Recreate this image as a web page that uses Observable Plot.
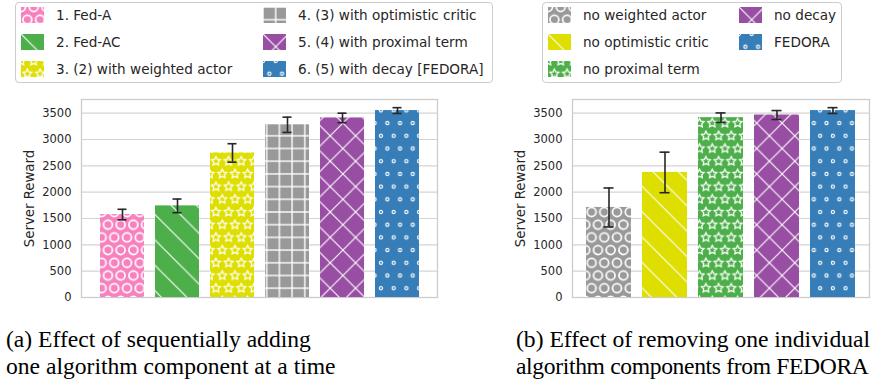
<!DOCTYPE html>
<html>
<head>
<meta charset="utf-8">
<script src="https://cdn.jsdelivr.net/npm/d3@7"></script>
<script src="https://cdn.jsdelivr.net/npm/@observablehq/plot@0.6"></script>
<style>
  body { margin: 0; background: #fff; }
  #root { position: relative; width: 878px; height: 379px; background: #fff; overflow: hidden; font-family: "DejaVu Sans", sans-serif; color: #262626; }
  .abs { position: absolute; }
  .legbox { position: absolute; border: 1px solid #cccccc; border-radius: 4px; box-sizing: border-box; background: #fff; }
  .item { position: absolute; display: flex; align-items: center; height: 18px; font-size: 13.6px; white-space: nowrap; }
  .item svg { display: block; }
  .cap { position: absolute; font-family: "Liberation Serif", "Times New Roman", serif; font-size: 23.6px; line-height: 27px; color: #000; white-space: nowrap; }
</style>
</head>
<body>
<div id="root"></div>
<script>
// ---------- data ----------
const namesA = ["1. Fed-A", "2. Fed-AC", "3. (2) with weighted actor", "4. (3) with optimistic critic", "5. (4) with proximal term", "6. (5) with decay [FEDORA]"];
const meansA = [1575, 1740, 2745, 3280, 3410, 3550];
const errsA  = [100, 130, 175, 145, 90, 55];
const colorsA = ["#f781bf", "#4daf4a", "#dede00", "#999999", "#984ea3", "#377eb8"];
const hatchesA = ["O", "\\", "*", "+", "x", "o"];

const namesB = ["no weighted actor", "no optimistic critic", "no proximal term", "no decay", "FEDORA"];
const meansB = [1710, 2375, 3415, 3465, 3550];
const errsB  = [370, 385, 90, 85, 55];
const colorsB = ["#999999", "#dede00", "#4daf4a", "#984ea3", "#377eb8"];
const hatchesB = ["O", "\\", "*", "x", "o"];

const yTicks = [0, 500, 1000, 1500, 2000, 2500, 3000, 3500];
const yLabel = "Server Reward";
const captionA = ["(a) Effect of sequentially adding", "one algorithm component at a time"];
const captionB = ["(b) Effect of removing one individual", "algorithm components from FEDORA"];

// ---------- patterns ----------
const hatchKey = {"O": "O", "o": "o", "*": "star", "+": "plus", "x": "x", "\\": "bs"};
const patId = (h, c) => `pat-${hatchKey[h]}-${c.slice(1)}`;
const defsSvg = d3.select("body").append("svg").attr("width", 0).attr("height", 0)
  .style("position", "absolute").style("left", "0").style("top", "0");
const defs = defsSvg.append("defs");
const S = 12.7, D = 25.4;
function starPath(cx, cy, R) {
  const pts = [];
  for (let i = 0; i < 10; i++) {
    const r = i % 2 === 0 ? R : R * 0.5;
    const a = -Math.PI / 2 + i * Math.PI / 5;
    pts.push([cx + r * Math.cos(a), cy + r * Math.sin(a)]);
  }
  return "M" + pts.map(p => p.join(",")).join("L") + "Z";
}
function makePattern(h, c) {
  const id = patId(h, c);
  if (!defs.select("#" + id).empty()) return;
  const shape = (h === "O" || h === "o" || h === "*");
  const w = shape ? S : (h === "+" ? S : D);
  const ht = shape ? 2 * S : w;
  const p = defs.append("pattern").attr("id", id).attr("patternUnits", "userSpaceOnUse")
    .attr("width", w).attr("height", ht);
  p.append("rect").attr("width", w).attr("height", ht).attr("fill", c);
  const g = p.append("g").attr("fill", "none").attr("stroke", "#fff");
  if (shape) {
    const centers = [[0, 0], [S, 0], [0, 2 * S], [S, 2 * S], [S / 2, S]];
    for (const [cx, cy] of centers) {
      if (h === "O") g.append("circle").attr("cx", cx).attr("cy", cy).attr("r", 4.45).attr("stroke-width", 1.7);
      else if (h === "o") g.append("circle").attr("cx", cx).attr("cy", cy).attr("r", 1.6).attr("stroke-width", 1.1);
      else g.append("path").attr("d", starPath(cx, cy, 4.7)).attr("stroke-width", 1.25).attr("stroke-linejoin", "miter");
    }
  } else if (h === "+") {
    g.attr("stroke-width", 1.4);
    for (const v of [0, w]) {
      g.append("line").attr("x1", v).attr("x2", v).attr("y1", 0).attr("y2", ht);
      g.append("line").attr("y1", v).attr("y2", v).attr("x1", 0).attr("x2", w);
    }
  } else {
    g.attr("stroke-width", 1.1);
    for (const k of [-1, 0, 1]) {
      g.append("line").attr("x1", -w).attr("y1", -w + k * w).attr("x2", 2 * w).attr("y2", 2 * w + k * w);
      if (h === "x") g.append("line").attr("x1", -w).attr("y1", 2 * w + k * w).attr("x2", 2 * w).attr("y2", -w + k * w);
    }
  }
}
namesA.forEach((_, i) => makePattern(hatchesA[i], colorsA[i]));
namesB.forEach((_, i) => makePattern(hatchesB[i], colorsB[i]));

// ---------- tables ----------
const dataA = namesA.map((name, i) => ({name, mean: meansA[i], err: errsA[i], fill: `url(#${patId(hatchesA[i], colorsA[i])})`}));
const dataB = namesB.map((name, i) => ({name, mean: meansB[i], err: errsB[i], fill: `url(#${patId(hatchesB[i], colorsB[i])})`}));

const root = d3.select("#root");

function panel(data, names, opts) {
  const chart = Plot.plot({
    width: opts.width, height: 220,
    marginLeft: opts.marginLeft, marginRight: opts.marginRight, marginTop: 14, marginBottom: 8,
    style: {fontFamily: "DejaVu Sans", color: "#262626", background: "transparent", overflow: "visible"},
    x: {domain: names, paddingInner: 0.2, paddingOuter: opts.paddingOuter, axis: null},
    y: {domain: [0, 3760], axis: null},
    color: {type: "identity"},
    marks: [
      Plot.gridY(yTicks, {stroke: "#d4d4d4", strokeOpacity: 1, strokeWidth: 1.2}),
      Plot.frame({stroke: "#cccccc", strokeWidth: 1.3}),
      Plot.axisY(yTicks, {tickSize: 0, tickPadding: 10, fontSize: 11.5, fill: "#262626", label: null, tickFormat: d => String(d)}),
      Plot.text([yLabel], {frameAnchor: "left", textAnchor: "middle", lineAnchor: "middle", dx: -52, rotate: -90, fontSize: 13.3, fill: "#262626"}),
      Plot.barY(data, {x: "name", y: "mean", fill: "fill"}),
      Plot.ruleX(data, {x: "name", y1: d => d.mean - d.err, y2: d => d.mean + d.err, stroke: "#262626", strokeWidth: 1.6}),
      Plot.tickY(data, {x: "name", y: d => d.mean + d.err, stroke: "#262626", strokeWidth: 1.6, insetLeft: 17.5, insetRight: 17.5}),
      Plot.tickY(data, {x: "name", y: d => d.mean - d.err, stroke: "#262626", strokeWidth: 1.6, insetLeft: 17.5, insetRight: 17.5})
    ]
  });
  const wrap = root.append("div").attr("class", "abs").style("left", opts.left + "px").style("top", "85px");
  wrap.node().appendChild(chart);
}
panel(dataA, namesA, {left: 0, width: 440, marginLeft: 81, marginRight: 3, paddingOuter: 0.29});
panel(dataB, namesB, {left: 490, width: 388, marginLeft: 82, marginRight: 9, paddingOuter: 0.244});

// ---------- legends ----------
function legend(names, hatches, colors, box, swatchX, textX) {
  root.append("div").attr("class", "legbox")
    .style("left", box.x + "px").style("top", box.y + "px")
    .style("width", box.w + "px").style("height", box.h + "px");
  const rowsY = [15, 42, 69];
  names.forEach((name, i) => {
    const col = Math.floor(i / 3), row = i % 3;
    const it = root.append("div").attr("class", "item")
      .style("left", swatchX[col] + "px").style("top", (rowsY[row] - 9) + "px");
    const sw = it.append("svg").attr("width", 23).attr("height", 16).style("margin-right", (textX[col] - swatchX[col] - 23) + "px");
    sw.append("rect").attr("width", 23).attr("height", 16).attr("fill", `url(#${patId(hatches[i], colors[i])})`);
    it.append("span").text(name);
  });
}
legend(namesA, hatchesA, colorsA, {x: 15, y: 2, w: 478, h: 81}, [21, 263], [56, 298]);
legend(namesB, hatchesB, colorsB, {x: 542, y: 2, w: 300, h: 81}, [548, 739], [583, 774]);

// ---------- captions ----------
root.append("div").attr("class", "cap").style("left", "6px").style("top", "326px").html(captionA.join("<br>"));
const capB = root.append("div").attr("class", "cap").style("left", "516px").style("top", "326px");
capB.append("div").text(captionB[0]);
capB.append("div").style("letter-spacing", "-0.35px").text(captionB[1]);
</script>
</body>
</html>
